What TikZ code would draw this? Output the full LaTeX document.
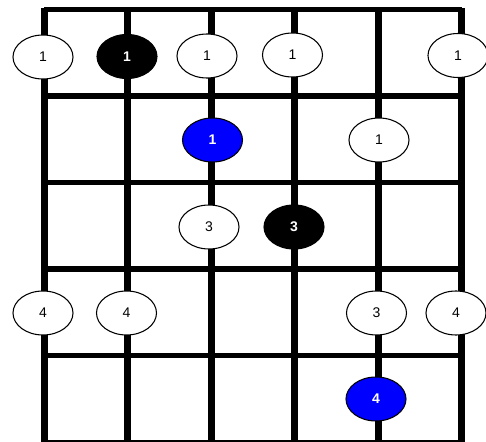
\documentclass[tikz,border=0pt]{standalone}
\usepackage{fontspec}
\setmainfont{Liberation Sans}
\usepackage{tikz}
\usetikzlibrary{shapes.geometric}

\begin{document}
\begin{tikzpicture}[
    x             = 0.75pt,
    y             = -0.75pt,
    font          = \fontsize{10.5}{12}\selectfont,
    strg/.style   = {line width=5.25pt},
    fret/.style   = {line width=4pt},
    note/.style   = {draw, ellipse, line width=0.8pt, fill=white,
                     minimum width=45pt, minimum height=33pt, inner sep=0pt},
    dark/.style   = {note, fill=black, text=white, font=\fontsize{10.5}{12}\selectfont\bfseries},
    root/.style   = {note, fill=blue, text=white, font=\fontsize{10.5}{12}\selectfont\bfseries},
  ]
  \useasboundingbox (0,0) rectangle (486,442);
  % frets
  \draw[fret] (44,9.5) -- (461.5,9.5);
  \draw[fret] (44,96) -- (461.5,96);
  \draw[fret] (44,182.5) -- (461.5,182.5);
  \draw[fret] (44,269) -- (461.5,269);
  \draw[fret] (44,355.5) -- (461.5,355.5);
  \draw[fret] (44,443) -- (461.5,443);
  % strings
  \draw[strg] (44,8) -- (44,445);
  \draw[strg] (127.5,8) -- (127.5,445);
  \draw[strg] (211.5,8) -- (211.5,445);
  \draw[strg] (294.5,8) -- (294.5,445);
  \draw[strg] (378,8) -- (378,445);
  \draw[strg] (461.5,8) -- (461.5,445);
  % first fret
  \node[note] (a1) at (43,57)    {1};
  \node[dark] (a2) at (127,56.5) {1};
  \node[note] (a3) at (207,56)   {1};
  \node[note] (a4) at (292.5,55) {1};
  \node[note] (a6) at (458,55.5) {1};
  % second fret
  \node[root] (b3) at (212.5,140) {1};
  \node[note] (b5) at (379,140)   {1};
  % third fret
  \node[note] (c3) at (209,227) {3};
  \node[dark] (c4) at (294,227) {3};
  % fourth fret
  \node[note] (d1) at (43,313)    {4};
  \node[note] (d2) at (126.5,313) {4};
  \node[note] (d5) at (376.5,313) {3};
  \node[note] (d6) at (456,313)   {4};
  % fifth fret
  \node[root] (e5) at (376,399) {4};
\end{tikzpicture}
\end{document}
